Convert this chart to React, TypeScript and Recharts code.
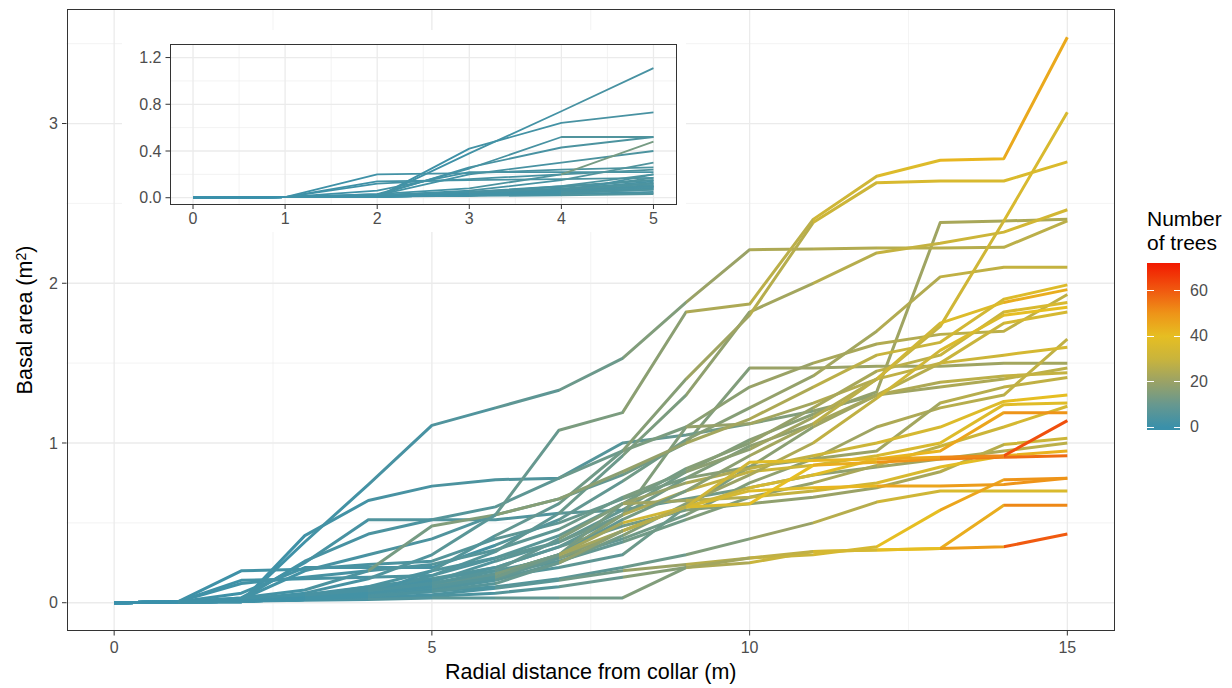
import React from 'react';
import { LineChart, Line, XAxis, YAxis, CartesianGrid } from 'recharts';

// ---------- axes / ticks ----------
const distances = [0, 1, 2, 3, 4, 5, 6, 7, 8, 9, 10, 11, 12, 13, 14, 15];
const xMajorTicks = [0, 5, 10, 15];
const xMinorGrid = [2.5, 7.5, 12.5];
const yMajorTicks = [0, 1, 2, 3];
const yMinorGrid = [0.5, 1.5, 2.5, 3.5];
const insetDistances = [0, 1, 2, 3, 4, 5];
const insetXTicks = [0, 1, 2, 3, 4, 5];
const insetXMinor = [0.5, 1.5, 2.5, 3.5, 4.5];
const insetYTicks = [0, 0.4, 0.8, 1.2];
const insetYMinor = [0.2, 0.6, 1.0];
const legendTicks = [0, 20, 40, 60];
const legendRange = [-1.2, 72.2];
const colourStops: [number, string][] = [
  [0, '#3A90AA'], [10, '#67988F'], [20, '#9AA266'], [30, '#C9B43C'],
  [40, '#E6BE22'], [50, '#EE9418'], [60, '#F05A10'], [72, '#F21A00'],
];

// ---------- series: basal area (m2) and number of trees per distance ----------
const basalA = [0, .005, .02, .06, .15, .30, .55, 1.08, 1.19, 1.82, 1.87, 2.40, 2.67, 2.77, 2.78, 3.54];
const treesA = [0, 1, 2, 3, 5, 7, 10, 14, 17, 24, 27, 32, 37, 42, 45, 50];
const basalB = [0, .005, .005, .38, .74, 1.11, 1.22, 1.33, 1.53, 1.88, 2.21, 2.215, 2.22, 2.22, 2.225, 2.39];
const treesB = [0, 1, 1, 2, 3, 5, 8, 11, 15, 20, 24, 25, 26, 26, 27, 31];
const basalC = [0, .005, .01, .04, .10, .20, .42, .62, .95, 1.40, 1.80, 2.38, 2.63, 2.64, 2.64, 2.76];
const treesC = [0, 1, 2, 3, 4, 6, 9, 12, 16, 21, 26, 31, 35, 35, 36, 39];
const basalD = [0, .005, .01, .02, .07, .17, .32, .56, .92, 1.30, 1.82, 2.00, 2.19, 2.25, 2.32, 2.46];
const treesD = [0, 1, 1, 2, 4, 6, 8, 11, 14, 18, 22, 26, 29, 31, 33, 36];
const basalE = [0, .005, .12, .16, .20, .24, .33, .46, .66, .82, .96, 1.16, 1.40, 1.73, 2.39, 3.07];
const treesE = [0, 1, 2, 3, 4, 6, 8, 11, 14, 17, 21, 25, 29, 32, 35, 38];
const basalF = [0, .005, .01, .03, .06, .13, .26, .38, .58, .82, 1.02, 1.18, 1.32, 2.38, 2.39, 2.40];
const treesF = [0, 1, 1, 2, 3, 5, 7, 9, 12, 15, 17, 19, 21, 23, 24, 25];
const basalG = [0, .005, .06, .22, .22, .22, .36, .52, .76, 1.02, 1.22, 1.42, 1.70, 2.04, 2.10, 2.10];
const treesG = [0, 1, 2, 3, 3, 3, 6, 9, 12, 16, 19, 22, 25, 28, 29, 29];
const basalH = [0, .005, .03, .08, .20, .48, .55, .65, .82, 1.00, 1.15, 1.35, 1.55, 1.63, 1.90, 1.99];
const treesH = [0, 1, 2, 4, 13, 15, 16, 17, 19, 22, 24, 27, 30, 33, 37, 40];
const basalI = [0, .005, .01, .02, .05, .09, .18, .30, .52, .70, .92, 1.12, 1.40, 1.75, 1.88, 1.96];
const treesI = [0, 1, 1, 2, 3, 4, 6, 9, 13, 17, 22, 27, 32, 37, 44, 46];
const basalJ = [0, .005, .02, .26, .43, .52, .60, .78, .95, 1.10, 1.35, 1.50, 1.62, 1.68, 1.70, 1.93];
const treesJ = [0, 1, 2, 3, 4, 6, 8, 11, 14, 17, 20, 23, 25, 27, 28, 33];
const basalK = [0, .005, .14, .15, .16, .17, .28, .42, .62, .84, 1.00, 1.22, 1.45, 1.55, 1.82, 1.88];
const treesK = [0, 1, 2, 3, 4, 5, 7, 10, 13, 16, 19, 23, 27, 30, 35, 37];
const basalL = [0, .005, .01, .03, .07, .14, .22, .35, .55, .78, .98, 1.12, 1.30, 1.50, 1.75, 1.82];
const treesL = [0, 1, 1, 2, 3, 5, 7, 9, 12, 15, 18, 22, 26, 30, 34, 36];
const basalM = [0, .005, .02, .05, .10, .15, .20, .28, .40, .55, .75, .90, 1.10, 1.22, 1.30, 1.65];
const treesM = [0, 1, 2, 3, 4, 5, 7, 9, 12, 15, 18, 21, 24, 26, 28, 32];
const basalN = [0, .005, .02, .20, .30, .40, .55, .65, .80, 1.00, 1.47, 1.47, 1.48, 1.48, 1.50, 1.50];
const treesN = [0, 1, 2, 3, 4, 5, 7, 9, 12, 15, 20, 20, 21, 21, 22, 22];
const basalO = [0, .005, .01, .03, .06, .11, .16, .22, .30, .60, .85, 1.10, 1.30, 1.38, 1.42, 1.44];
const treesO = [0, 1, 1, 2, 3, 4, 6, 8, 11, 14, 17, 21, 24, 27, 29, 30];
const basalP = [0, .005, .20, .21, .24, .26, .40, .50, .65, .78, .85, .90, .95, 1.25, 1.35, 1.41];
const treesP = [0, 1, 2, 3, 4, 6, 8, 10, 13, 16, 18, 20, 22, 26, 28, 30];
const basalQ = [0, .005, .01, .02, .04, .08, .15, .30, .55, .70, .82, .86, .92, 1.00, 1.24, 1.25];
const treesQ = [0, 1, 1, 2, 3, 5, 9, 16, 24, 28, 31, 33, 35, 37, 38, 38];
const basalR = [0, .005, .02, .04, .08, .12, .18, .26, .38, .52, .66, .75, .86, .98, 1.10, 1.23];
const treesR = [0, 1, 2, 3, 4, 5, 7, 9, 12, 15, 19, 23, 27, 31, 34, 38];
const basalS = [0, .005, .01, .03, .05, .09, .15, .28, .45, .60, .72, .80, .90, .95, 1.19, 1.19];
const treesS = [0, 1, 1, 2, 3, 5, 9, 16, 24, 30, 34, 38, 42, 46, 50, 50];
const basalT = [0, .005, .01, .02, .04, .07, .12, .25, .45, .60, .88, .89, .90, .91, .92, 1.14];
const treesT = [0, 1, 1, 2, 4, 6, 10, 18, 26, 32, 38, 42, 46, 52, 62, 66];
const basalU = [0, .005, .01, .03, .06, .10, .16, .30, .50, .60, .62, .86, .88, .90, .91, .92];
const treesU = [0, 1, 1, 2, 3, 6, 12, 22, 32, 36, 40, 44, 50, 54, 57, 58];
const basalV = [0, .005, .02, .05, .09, .15, .22, .35, .48, .58, .62, .66, .72, .82, .99, 1.03];
const treesV = [0, 1, 2, 3, 4, 6, 8, 10, 13, 16, 18, 20, 23, 26, 31, 33];
const basalW = [0, .005, .01, .02, .03, .05, .09, .14, .20, .24, .28, .30, .35, .58, .77, .78];
const treesW = [0, 1, 1, 2, 3, 4, 7, 12, 20, 26, 30, 34, 40, 46, 50, 51];
const basalX = [0, .005, .01, .03, .06, .10, .18, .30, .45, .60, .70, .72, .73, .73, .74, .78];
const treesX = [0, 1, 1, 3, 5, 8, 14, 22, 30, 34, 38, 42, 46, 48, 50, 52];
const basalY = [0, .005, .01, .02, .04, .07, .10, .15, .22, .30, .40, .50, .63, .70, .70, .70];
const treesY = [0, 1, 1, 2, 3, 4, 6, 8, 11, 15, 20, 26, 32, 36, 36, 36];
const basalZ = [0, .005, .01, .02, .03, .04, .06, .10, .16, .22, .25, .32, .33, .34, .61, .61];
const treesZ = [0, 1, 1, 2, 3, 4, 6, 10, 16, 24, 30, 36, 40, 44, 52, 52];
const basalAA = [0, .005, .01, .015, .02, .03, .03, .03, .03, .22, .28, .32, .33, .34, .35, .43];
const treesAA = [0, 1, 2, 3, 5, 7, 9, 12, 15, 22, 28, 34, 40, 48, 60, 66];
const basalBB = [0, .005, .005, .42, .64, .73, .77, .78, 1.00, 1.05, 1.12, 1.20, 1.30, 1.35, 1.40, 1.47];
const treesBB = [0, 1, 1, 2, 3, 4, 5, 6, 9, 12, 15, 18, 21, 24, 27, 30];
const basalCC = [0, .005, .03, .25, .52, .52, .52, .56, .58, .65, .72, .80, .85, .90, .95, 1.00];
const treesCC = [0, 1, 2, 3, 5, 5, 5, 7, 9, 12, 15, 18, 21, 24, 27, 30];
const basalDD = [0, .005, .01, .02, .04, .08, .14, .25, .42, .62, .80, 1.00, 1.28, 1.58, 1.80, 1.85];
const treesDD = [0, 1, 1, 2, 3, 5, 8, 12, 16, 20, 24, 28, 32, 36, 40, 42];
const basalEE = [0, .005, .01, .03, .05, .10, .18, .30, .62, .75, .84, .92, 1.00, 1.10, 1.26, 1.30];
const treesEE = [0, 1, 1, 2, 3, 5, 8, 13, 19, 24, 28, 31, 34, 37, 40, 41];
const basalFF = [0, .005, .02, .04, .07, .12, .20, .40, .62, .64, .66, .70, .75, .85, .92, .95];
const treesFF = [0, 1, 2, 3, 4, 6, 9, 15, 21, 26, 29, 32, 35, 39, 43, 45];
const basalGG = [0, .005, .01, .02, .05, .20, .28, .38, .55, 1.10, 1.12, 1.25, 1.40, 1.50, 1.55, 1.60];
const treesGG = [0, 1, 1, 2, 3, 5, 8, 11, 15, 19, 22, 25, 28, 31, 34, 36];

const seriesList = [
  { key: 'A', basal: basalA, trees: treesA }, { key: 'B', basal: basalB, trees: treesB },
  { key: 'C', basal: basalC, trees: treesC }, { key: 'D', basal: basalD, trees: treesD },
  { key: 'E', basal: basalE, trees: treesE }, { key: 'F', basal: basalF, trees: treesF },
  { key: 'G', basal: basalG, trees: treesG }, { key: 'H', basal: basalH, trees: treesH },
  { key: 'I', basal: basalI, trees: treesI }, { key: 'J', basal: basalJ, trees: treesJ },
  { key: 'K', basal: basalK, trees: treesK }, { key: 'L', basal: basalL, trees: treesL },
  { key: 'M', basal: basalM, trees: treesM }, { key: 'N', basal: basalN, trees: treesN },
  { key: 'O', basal: basalO, trees: treesO }, { key: 'P', basal: basalP, trees: treesP },
  { key: 'Q', basal: basalQ, trees: treesQ }, { key: 'R', basal: basalR, trees: treesR },
  { key: 'S', basal: basalS, trees: treesS }, { key: 'T', basal: basalT, trees: treesT },
  { key: 'U', basal: basalU, trees: treesU }, { key: 'V', basal: basalV, trees: treesV },
  { key: 'W', basal: basalW, trees: treesW }, { key: 'X', basal: basalX, trees: treesX },
  { key: 'Y', basal: basalY, trees: treesY }, { key: 'Z', basal: basalZ, trees: treesZ },
  { key: 'AA', basal: basalAA, trees: treesAA }, { key: 'BB', basal: basalBB, trees: treesBB },
  { key: 'CC', basal: basalCC, trees: treesCC }, { key: 'DD', basal: basalDD, trees: treesDD },
  { key: 'EE', basal: basalEE, trees: treesEE }, { key: 'FF', basal: basalFF, trees: treesFF },
  { key: 'GG', basal: basalGG, trees: treesGG },
];

// ---------- helpers ----------
const hexToRgb = (h: string) => [1, 3, 5].map((i) => parseInt(h.slice(i, i + 2), 16));
const colourFor = (n: number): string => {
  if (n <= colourStops[0][0]) return colourStops[0][1];
  for (let i = 1; i < colourStops.length; i++) {
    const [v1, c1] = colourStops[i];
    const [v0, c0] = colourStops[i - 1];
    if (n <= v1) {
      const t = (n - v0) / (v1 - v0);
      const a = hexToRgb(c0);
      const b = hexToRgb(c1);
      const m = a.map((x, k) => Math.round(x + (b[k] - x) * t));
      return `rgb(${m[0]},${m[1]},${m[2]})`;
    }
  }
  return colourStops[colourStops.length - 1][1];
};

const drawOrder = [...seriesList].sort((p, q) => p.trees[14] - q.trees[14]);

const mainRows = distances.map((d, i) => {
  const row: Record<string, number> = { d };
  seriesList.forEach((s) => { row[s.key] = s.basal[i]; });
  return row;
});
const insetRows = mainRows.filter((r) => insetDistances.includes(r.d));

const segmentStops = (trees: number[], segs: number) => {
  const out: { off: number; col: string }[] = [];
  for (let i = 0; i < segs; i++) {
    const col = colourFor(trees[i]);
    out.push({ off: i / segs, col });
    out.push({ off: (i + 1) / segs, col });
  }
  return out;
};

const FONT = '"Liberation Sans", Arial, Helvetica, sans-serif';
const tickStyle = { fill: '#4D4D4D', fontSize: 16, fontFamily: FONT };
const insetTickStyle = { fill: '#4D4D4D', fontSize: 16, fontFamily: FONT };

export default function App() {
  const legendSpan = legendRange[1] - legendRange[0];
  const barH = 167;
  const barW = 33;
  const gradCss = `linear-gradient(to top, ${colourStops
    .map(([v, c]) => `${c} ${(((v - legendRange[0]) / legendSpan) * 100).toFixed(2)}%`)
    .join(', ')})`;

  return (
    <div style={{ position: 'absolute', left: 0, top: 0, width: 1232, height: 688, background: '#ffffff', fontFamily: FONT, overflow: 'hidden' }}>
      <svg width={0} height={0} style={{ position: 'absolute' }}>
        <defs>
          {seriesList.map((s) => (
            <linearGradient key={`g${s.key}`} id={`g${s.key}`} x1="0" y1="0" x2="1" y2="0">
              {segmentStops(s.trees, distances.length - 1).map((st, i) => (
                <stop key={i} offset={st.off} stopColor={st.col} />
              ))}
            </linearGradient>
          ))}
          {seriesList.map((s) => (
            <linearGradient key={`h${s.key}`} id={`h${s.key}`} x1="0" y1="0" x2="1" y2="0">
              {segmentStops(s.trees, insetDistances.length - 1).map((st, i) => (
                <stop key={i} offset={st.off} stopColor={st.col} />
              ))}
            </linearGradient>
          ))}
        </defs>
      </svg>

      <div style={{ position: 'absolute', left: 0, top: 0 }}>
        <LineChart width={1232} height={688} data={mainRows} margin={{ top: 9, right: 117, bottom: 27, left: 0 }}>
          <CartesianGrid horizontalValues={yMinorGrid} verticalValues={xMinorGrid} stroke="#EBEBEB" strokeWidth={0.6} />
          <CartesianGrid horizontalValues={yMajorTicks} verticalValues={xMajorTicks} stroke="#EBEBEB" strokeWidth={1.3} />
          <XAxis dataKey="d" type="number" domain={[-0.75, 15.75]} allowDataOverflow ticks={xMajorTicks}
            height={30} axisLine={false} tickLine={{ stroke: '#333333' }} tickSize={4.5} tickMargin={6} tick={tickStyle} />
          <YAxis type="number" domain={[-0.177, 3.717]} allowDataOverflow ticks={yMajorTicks}
            width={66.5} axisLine={false} tickLine={{ stroke: '#333333' }} tickSize={4.5} tickMargin={4} tick={tickStyle} />
          {drawOrder.map((s) => (
            <Line key={s.key} dataKey={s.key} type="linear" stroke={`url(#g${s.key})`} strokeWidth={3}
              dot={false} activeDot={false} isAnimationActive={false} strokeLinejoin="round" />
          ))}
        </LineChart>
      </div>
      <div style={{ position: 'absolute', left: 66.5, top: 9, width: 1115 - 66.5, height: 631 - 9, border: '1px solid #333333', boxSizing: 'border-box', pointerEvents: 'none' }} />

      {/* inset */}
      <div style={{ position: 'absolute', left: 122, top: 30, width: 564, height: 202, background: '#ffffff' }}>
        <LineChart width={564} height={202} data={insetRows} margin={{ top: 14, right: 9.5, bottom: 0, left: 0 }}>
          <CartesianGrid horizontalValues={insetYMinor} verticalValues={insetXMinor} stroke="#EBEBEB" strokeWidth={0.6} />
          <CartesianGrid horizontalValues={insetYTicks} verticalValues={insetXTicks} stroke="#EBEBEB" strokeWidth={1.3} />
          <XAxis dataKey="d" type="number" domain={[-0.25, 5.25]} allowDataOverflow ticks={insetXTicks}
            height={27.5} axisLine={false} tickLine={{ stroke: '#333333' }} tickSize={4.5} tickMargin={4} tick={insetTickStyle} />
          <YAxis type="number" domain={[-0.058, 1.316]} allowDataOverflow ticks={insetYTicks}
            tickFormatter={(v: number) => v.toFixed(1)}
            width={48} axisLine={false} tickLine={{ stroke: '#333333' }} tickSize={4.5} tickMargin={4} tick={insetTickStyle} />
          {drawOrder.map((s) => (
            <Line key={s.key} dataKey={s.key} type="linear" stroke={`url(#h${s.key})`} strokeWidth={1.8}
              dot={false} activeDot={false} isAnimationActive={false} strokeLinejoin="round" />
          ))}
        </LineChart>
      </div>
      <div style={{ position: 'absolute', left: 170, top: 44, width: 676.5 - 170, height: 204.5 - 44, border: '1px solid #333333', boxSizing: 'border-box', pointerEvents: 'none' }} />

      {/* axis titles */}
      <div style={{ position: 'absolute', left: 66.5, width: 1115 - 66.5, top: 659, textAlign: 'center', fontSize: 21.5, color: '#000', lineHeight: '26px' }}>
        Radial distance from collar (m)
      </div>
      <div style={{ position: 'absolute', left: 25, top: 320, transform: 'translate(-50%, -50%) rotate(-90deg)', whiteSpace: 'nowrap', fontSize: 21.5, color: '#000', lineHeight: '26px' }}>
        Basal area (m<sup style={{ fontSize: 14, verticalAlign: 'top', position: 'relative', top: -4 }}>2</sup>)
      </div>

      {/* legend */}
      <div style={{ position: 'absolute', left: 1147, top: 207, fontSize: 21, lineHeight: '24px', color: '#000' }}>
        <div>Number</div>
        <div>of trees</div>
      </div>
      <div style={{ position: 'absolute', left: 1147, top: 263, width: barW, height: barH, background: gradCss }}>
        {legendTicks.map((t) => {
          const b = ((t - legendRange[0]) / legendSpan) * barH;
          return (
            <React.Fragment key={t}>
              <div style={{ position: 'absolute', left: 0, bottom: b - 0.5, width: 6.5, height: 1, background: '#ffffff' }} />
              <div style={{ position: 'absolute', right: 0, bottom: b - 0.5, width: 6.5, height: 1, background: '#ffffff' }} />
            </React.Fragment>
          );
        })}
      </div>
      {legendTicks.map((t) => {
        const b = ((t - legendRange[0]) / legendSpan) * barH;
        return (
          <div key={t} style={{ position: 'absolute', left: 1190, top: 263 + barH - b - 10, fontSize: 16, lineHeight: '20px', color: '#4D4D4D' }}>
            {t}
          </div>
        );
      })}
    </div>
  );
}
